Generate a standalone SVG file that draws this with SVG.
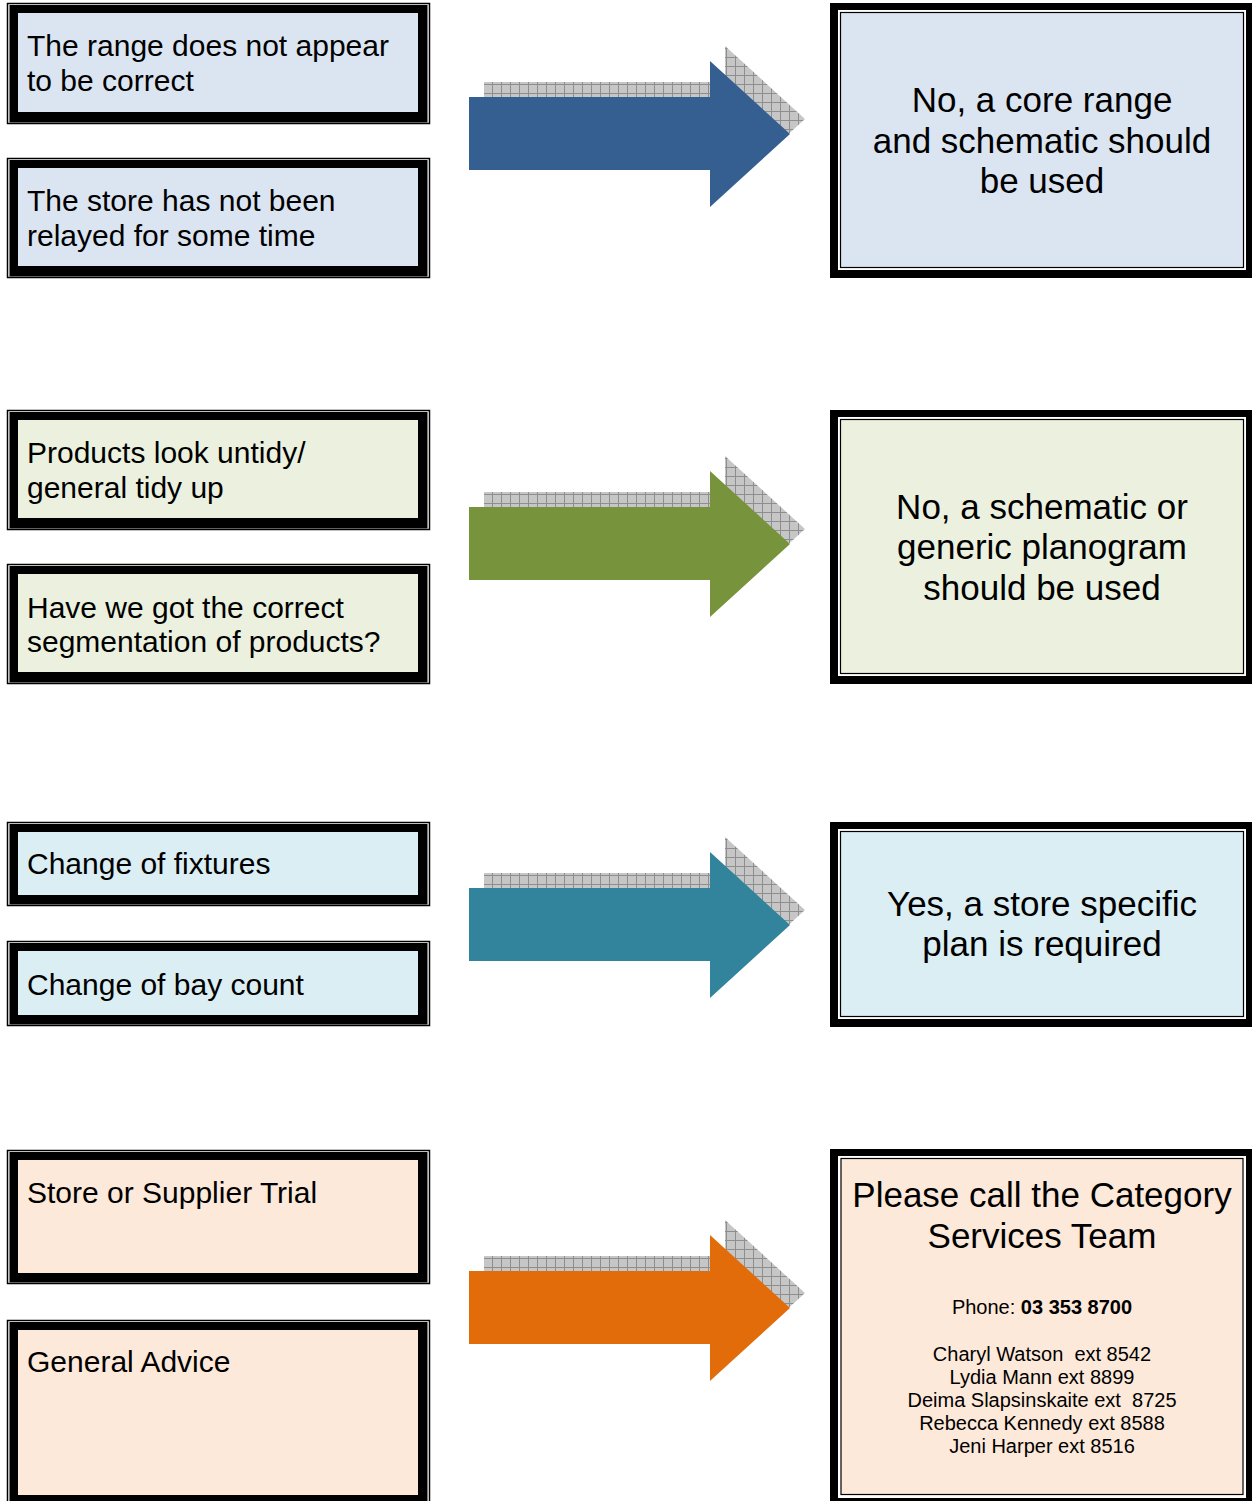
<svg xmlns="http://www.w3.org/2000/svg" width="1252" height="1501" viewBox="0 0 1252 1501">
<style>
.ot{fill:none;stroke:#000;stroke-width:1.5}
.blk{fill:#000}
.wh{fill:#fff}
.in{stroke:#000;stroke-width:1.2}
.f1{fill:#DBE5F1}.f2{fill:#EBF1DE}.f3{fill:#DAEEF3}.f4{fill:#FDE9D9}
.lt{font-family:"Liberation Sans",Arial,sans-serif;font-size:30px;fill:#000}
.rt{font-family:"Liberation Sans",Arial,sans-serif;font-size:35px;fill:#000;text-anchor:middle}
.st{font-family:"Liberation Sans",Arial,sans-serif;font-size:20px;fill:#000;text-anchor:middle}
.sh{fill:url(#hatch)}
</style>
<defs>
<pattern id="hatch" width="9" height="9" patternUnits="userSpaceOnUse">
<rect width="9" height="9" fill="#C6C6C6"/>
<path d="M0 0.5H9M0.5 0V9" stroke="#8E8E8E" stroke-width="1"/>
</pattern>
<polygon id="arr" points="469,97 710,97 710,61 790,134 710,207 710,170 469,170"/>
</defs>
<rect width="1252" height="1501" fill="#fff"/>

<g id="connectors">
<g id="arrow1"><use href="#arr" class="sh" transform="translate(15,-15)"/><use href="#arr" fill="#365F91"/></g>
<g id="arrow2" transform="translate(0,410)"><use href="#arr" class="sh" transform="translate(15,-15)"/><use href="#arr" fill="#77933C"/></g>
<g id="arrow3" transform="translate(0,791)"><use href="#arr" class="sh" transform="translate(15,-15)"/><use href="#arr" fill="#31849B"/></g>
<g id="arrow4" transform="translate(0,1174)"><use href="#arr" class="sh" transform="translate(15,-15)"/><use href="#arr" fill="#E36C0A"/></g>
</g>

<g id="box-l1">
<rect class="ot" x="7.5" y="3.5" width="422" height="120"/>
<rect class="blk" x="9.5" y="5" width="418" height="117.5"/>
<rect class="f1" x="18" y="13" width="400" height="99"/>
<text class="lt" x="27" y="56">The range does not appear</text>
<text class="lt" x="27" y="91">to be correct</text>
</g>
<g id="box-l2">
<rect class="ot" x="7.5" y="158.5" width="422" height="119"/>
<rect class="blk" x="9.5" y="160" width="418" height="116.5"/>
<rect class="f1" x="18" y="168" width="400" height="98"/>
<text class="lt" x="27" y="211">The store has not been</text>
<text class="lt" x="27" y="246">relayed for some time</text>
</g>
<g id="box-r1">
<rect class="blk" x="830" y="3" width="430" height="275"/>
<rect class="wh" x="838" y="10" width="408" height="260"/>
<rect class="f1 in" x="840.5" y="12.5" width="403" height="255"/>
<text class="rt" x="1042" y="112">No, a core range</text>
<text class="rt" x="1042" y="153">and schematic should</text>
<text class="rt" x="1042" y="193">be used</text>
</g>

<g id="box-l3">
<rect class="ot" x="7.5" y="410.5" width="422" height="119"/>
<rect class="blk" x="9.5" y="412" width="418" height="116.5"/>
<rect class="f2" x="18" y="420" width="400" height="98"/>
<text class="lt" x="27" y="463">Products look untidy/</text>
<text class="lt" x="27" y="498">general tidy up</text>
</g>
<g id="box-l4">
<rect class="ot" x="7.5" y="564.5" width="422" height="119"/>
<rect class="blk" x="9.5" y="566" width="418" height="116.5"/>
<rect class="f2" x="18" y="574" width="400" height="98"/>
<text class="lt" x="27" y="618">Have we got the correct</text>
<text class="lt" x="27" y="652">segmentation of products?</text>
</g>
<g id="box-r2">
<rect class="blk" x="830" y="410" width="430" height="274"/>
<rect class="wh" x="838" y="417" width="408" height="259"/>
<rect class="f2 in" x="840.5" y="419.5" width="403" height="254"/>
<text class="rt" x="1042" y="519">No, a schematic or</text>
<text class="rt" x="1042" y="559">generic planogram</text>
<text class="rt" x="1042" y="600">should be used</text>
</g>

<g id="box-l5">
<rect class="ot" x="7.5" y="822.5" width="422" height="83"/>
<rect class="blk" x="9.5" y="824" width="418" height="80.5"/>
<rect class="f3" x="18" y="832" width="400" height="63"/>
<text class="lt" x="27" y="874">Change of fixtures</text>
</g>
<g id="box-l6">
<rect class="ot" x="7.5" y="941.5" width="422" height="84"/>
<rect class="blk" x="9.5" y="943" width="418" height="81.5"/>
<rect class="f3" x="18" y="951" width="400" height="64"/>
<text class="lt" x="27" y="995">Change of bay count</text>
</g>
<g id="box-r3">
<rect class="blk" x="830" y="822" width="430" height="205"/>
<rect class="wh" x="838" y="829" width="408" height="190"/>
<rect class="f3 in" x="840.5" y="831.5" width="403" height="185"/>
<text class="rt" x="1042" y="916">Yes, a store specific</text>
<text class="rt" x="1042" y="956">plan is required</text>
</g>

<g id="box-l7">
<rect class="ot" x="7.5" y="1150.5" width="422" height="133"/>
<rect class="blk" x="9.5" y="1152" width="418" height="130.5"/>
<rect class="f4" x="18" y="1160" width="400" height="113"/>
<text class="lt" x="27" y="1203">Store or Supplier Trial</text>
</g>
<g id="box-l8">
<rect class="ot" x="7.5" y="1320.5" width="422" height="190"/>
<rect class="blk" x="9.5" y="1322" width="418" height="190"/>
<rect class="f4" x="18" y="1330" width="400" height="165"/>
<text class="lt" x="27" y="1372">General Advice</text>
</g>
<g id="box-r4">
<rect class="blk" x="830" y="1149" width="430" height="360"/>
<rect class="wh" x="838" y="1156" width="408" height="342"/>
<rect class="f4 in" x="841" y="1158.5" width="402" height="336"/>
<text class="rt" x="1042" y="1207">Please call the Category</text>
<text class="rt" x="1042" y="1248">Services Team</text>
<text class="st" x="1042" y="1314">Phone: <tspan font-weight="bold">03 353 8700</tspan></text>
<text class="st" x="1042" y="1361" xml:space="preserve">Charyl Watson  ext 8542</text>
<text class="st" x="1042" y="1384">Lydia Mann ext 8899</text>
<text class="st" x="1042" y="1407" xml:space="preserve">Deima Slapsinskaite ext  8725</text>
<text class="st" x="1042" y="1430">Rebecca Kennedy ext 8588</text>
<text class="st" x="1042" y="1453">Jeni Harper ext 8516</text>
</g>
</svg>
